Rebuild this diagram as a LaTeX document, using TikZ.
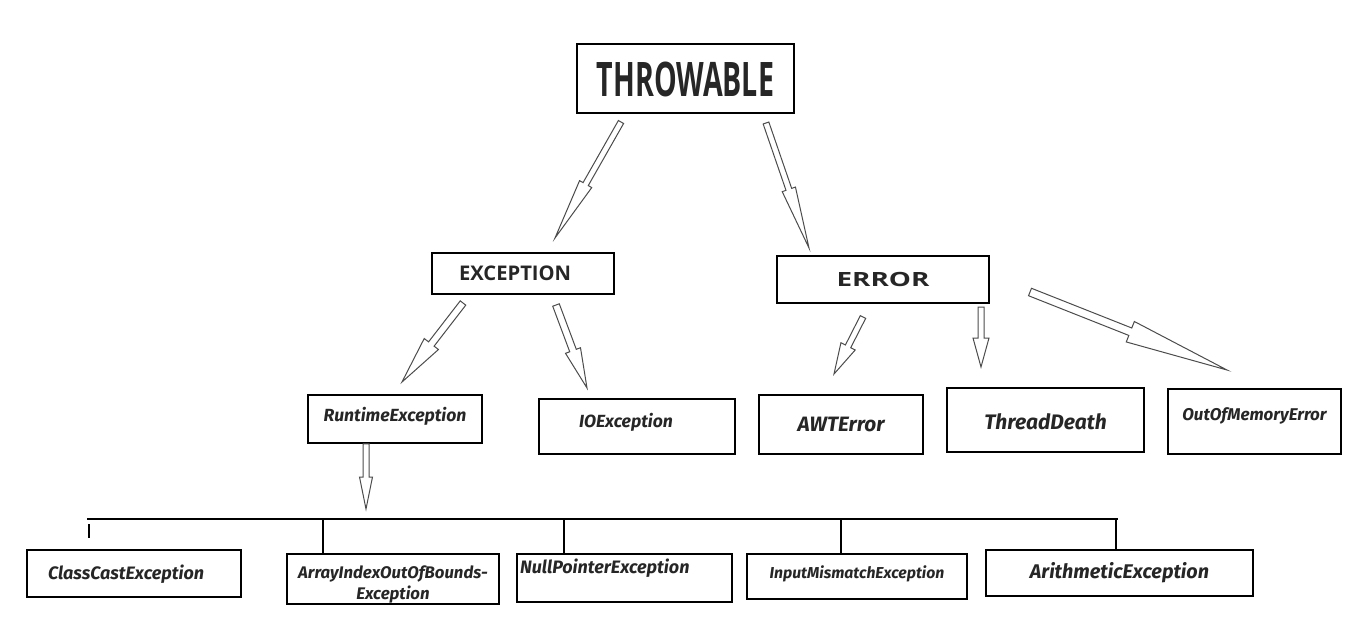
\documentclass[tikz,border=0pt]{standalone}
\usepackage{fontspec}
\usepackage{graphicx}
\newfontfamily\clsfont{Fira Sans}
\newfontfamily\headfont{Open Sans}
\usetikzlibrary{calc}
\tikzset{x=1pt, y=-1pt}
\tikzset{
  box/.style={draw, line width=1.6pt, inner sep=0pt, text=black!85},
  lbox/.style={box, align=left, inner xsep=#1},
  hollow/.style={draw=black!70, line width=1pt, fill=white},
  bar/.style={line width=1.4pt}
}
\newcommand{\clsf}[1]{\clsfont\bfseries\itshape\fontsize{#1}{#1}\selectfont}
\newcommand{\hdf}[1]{\headfont\bfseries\fontsize{#1}{#1}\selectfont}
\newcommand{\hollowarrow}[5]{%
  \path ($(#2)!#5!(#1)$) coordinate (hb);
  \draw[hollow] ($(#1)!#3!90:(#2)$) -- ($(hb)!#3!90:(#2)$) -- ($(hb)!#4!90:(#2)$) -- (#2)
    -- ($(hb)!#4!-90:(#2)$) -- ($(hb)!#3!-90:(#2)$) -- ($(#1)!#3!-90:(#2)$) -- cycle;
}

\begin{document}
\begin{tikzpicture}
\useasboundingbox (0,0) rectangle (1350,629);

\node[box, minimum width=217pt, text height=52pt, text depth=17pt, font=\hdf{47.6}] (thr) at (685.5,78.5) {\scalebox{0.6}[1]{THROWABLE}};
\node[lbox=27pt, text width=128pt, text height=27pt, text depth=14pt, font=\hdf{20.2}] (exc) at (523,273.5) {EXCEPTION};
\node[box, minimum width=212pt, text height=30pt, text depth=17pt, font=\hdf{19.6}] (err) at (883,279.5) {\scalebox{1.42}[1]{ERROR}};

\node[box, minimum width=174pt, text height=26pt, text depth=22pt, font=\clsf{17.6}] (rte) at (395,419) {RuntimeException};
\node[lbox=40pt, text width=116pt, text height=28pt, text depth=27pt, font=\clsf{17.6}] (ioe) at (637,426.5) {IOException};
\node[box, minimum width=164pt, text height=36pt, text depth=23pt, font=\clsf{20.8}] (awt) at (841,424.5) {AWTError};
\node[box, minimum width=197pt, text height=41pt, text depth=23pt, font=\clsf{21}] (tdd) at (1045.5,420) {ThreadDeath};
\node[box, minimum width=173pt, text height=31pt, text depth=34pt, font=\clsf{17}] (oom) at (1254.5,421.5) {OutOfMemoryError};

\node[lbox=21pt, text width=172pt, text height=29pt, text depth=18pt, font=\clsf{18}] (cce) at (134,573.5) {ClassCastException};
\node[box, minimum width=212pt, text height=45pt, text depth=5pt, align=center, font={\clsfont\bfseries\itshape\fontsize{16.8}{21}\selectfont}] (aio) at (393,579) {ArrayIndexOutOfBounds-\\Exception};
\node[lbox=3pt, text width=209pt, text height=19pt, text depth=29pt, font=\clsf{18}] (npe) at (624.5,578) {NullPointerException};
\node[box, minimum width=220pt, text height=24pt, text depth=21pt, font=\clsf{15.8}] (ime) at (857,576.5) {InputMismatchException};
\node[box, minimum width=267pt, text height=28pt, text depth=18pt, font=\clsf{19.8}] (are) at (1119.5,573) {ArithmeticException};

\coordinate (barL) at (87,519);
\coordinate (barR) at (1118,519);
\coordinate (b1) at (323,519);
\coordinate (b2) at (564,519);
\coordinate (b3) at (841,519);
\coordinate (b4) at (1116,519);

\draw[bar] (barL) -- (barR);
\draw[bar] (barL) ++(2,5) -- ++(0,14);
\draw[bar] (b1) -- (b1 |- aio.north);
\draw[bar] (b2) -- (b2 |- npe.north);
\draw[bar] (b3) -- (b3 |- ime.north);
\draw[bar] (b4) -- (b4 |- are.north);

\coordinate (thrL) at (621,122);
\coordinate (thrR) at (766,123);
\coordinate (excL) at (463,303);
\coordinate (excR) at (556,305);
\coordinate (errL) at (863,317);
\coordinate (errM) at (981,307);
\coordinate (errR) at (1030,292);
\coordinate (excT) at (555,238);
\coordinate (errT) at (809,248);
\coordinate (rteT) at (402,382);
\coordinate (ioeT) at (587,388);
\coordinate (awtT) at (834,374);
\coordinate (tddT) at (981,367);
\coordinate (oomT) at (1227,370);
\coordinate (barT) at (366,509);

\hollowarrow{thrL}{excT}{3pt}{7pt}{62pt}
\hollowarrow{thrR}{errT}{3pt}{7pt}{62pt}
\hollowarrow{excL}{rteT}{3.5pt}{9pt}{48pt}
\hollowarrow{excR}{ioeT}{3.5pt}{8pt}{40pt}
\hollowarrow{errL}{awtT}{3pt}{8pt}{31pt}
\hollowarrow{errM}{tddT}{3pt}{8pt}{29pt}
\hollowarrow{errR}{oomT}{4pt}{11pt}{104pt}
\hollowarrow{[xshift=-29pt]rte.south}{barT}{3pt}{6.5pt}{32pt}
\end{tikzpicture}
\end{document}
